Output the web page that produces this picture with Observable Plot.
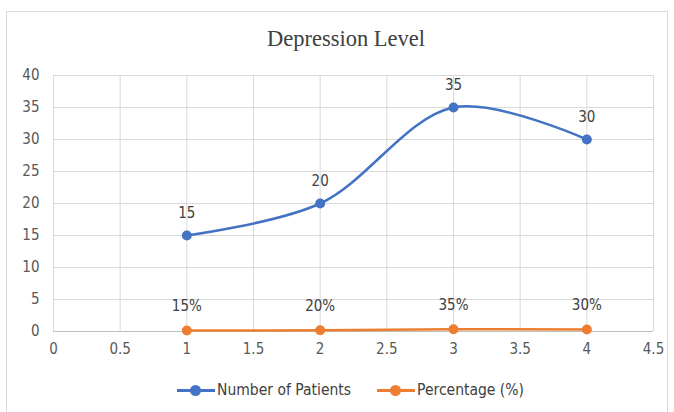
<!DOCTYPE html>
<html><head><meta charset="utf-8">
<script src="https://cdn.jsdelivr.net/npm/d3@7"></script>
<script src="https://cdn.jsdelivr.net/npm/@observablehq/plot@0.6"></script>
<style>
body{margin:0;background:#fff;width:674px;height:412px;overflow:hidden;position:relative;font-family:"Liberation Sans Narrow","DejaVu Sans Condensed",sans-serif;}
#frame{position:absolute;left:6px;top:11px;width:662px;height:420px;border:1px solid #d9d9d9;box-sizing:border-box;}
#title{position:absolute;left:0;width:692px;top:26px;text-align:center;font-family:"Liberation Serif","DejaVu Serif",serif;font-size:22.5px;color:#404040;}
#chart{position:absolute;left:0;top:0;}
#legend{position:absolute;top:381px;left:177px;font-size:15.5px;color:#404040;display:flex;align-items:center;}
.item{display:flex;align-items:center;margin-right:26px;}
.sw{position:relative;width:38px;height:12px;margin-right:2px;}
.sw .ln{position:absolute;left:0;right:0;top:5px;height:3px;}
.sw .dt{position:absolute;left:13px;top:1px;width:11px;height:11px;border-radius:50%;}
</style></head>
<body>
<div id="frame"></div>
<div id="chart"></div>
<div id="title">Depression Level</div>
<div id="legend"></div>
<script>
const levels = [1, 2, 3, 4];
const patients = [15, 20, 35, 30];
const percentages = [0.15, 0.20, 0.35, 0.30];
const percentLabels = ["15%", "20%", "35%", "30%"];
const seriesNames = ["Number of Patients", "Percentage (%)"];
const seriesColors = ["#4472C4", "#ED7D31"];
const xTicks = [0, 0.5, 1, 1.5, 2, 2.5, 3, 3.5, 4, 4.5];
const yTicks = [0, 5, 10, 15, 20, 25, 30, 35, 40];

const pData = levels.map((x, i) => ({x, y: patients[i], label: String(patients[i])}));
const qData = levels.map((x, i) => ({x, y: percentages[i], label: percentLabels[i]}));

const chart = Plot.plot({
  width: 674, height: 360,
  marginLeft: 53, marginRight: 21, marginTop: 75, marginBottom: 29,
  style: {fontFamily: '"Liberation Sans Narrow","DejaVu Sans Condensed",sans-serif', fontSize: "15px", color: "#595959", background: "transparent"},
  x: {domain: [0, 4.5], ticks: xTicks, tickFormat: d => String(d), tickSize: 0, tickPadding: 12, label: null},
  y: {domain: [0, 40], ticks: yTicks, tickFormat: d => String(d), tickSize: 0, tickPadding: 14, label: null},
  marks: [
    Plot.gridX(xTicks, {stroke: "#d9d9d9", strokeOpacity: 1, strokeWidth: 1}),
    Plot.gridY(yTicks, {stroke: "#d9d9d9", strokeOpacity: 1, strokeWidth: 1}),
    Plot.ruleY([0], {stroke: "#bfbfbf"}),
    Plot.line(pData, {x: "x", y: "y", stroke: seriesColors[0], strokeWidth: 2.5, curve: "catmull-rom"}),
    Plot.dot(pData, {x: "x", y: "y", fill: seriesColors[0], r: 5}),
    Plot.text(pData, {x: "x", y: "y", text: "label", dy: -22, fill: "#404040", fontSize: 15}),
    Plot.line(qData, {x: "x", y: "y", stroke: seriesColors[1], strokeWidth: 2.5, curve: "catmull-rom"}),
    Plot.dot(qData, {x: "x", y: "y", fill: seriesColors[1], r: 5}),
    Plot.text(qData, {x: "x", y: "y", text: "label", dy: -24, fill: "#404040", fontSize: 15})
  ]
});
document.getElementById("chart").appendChild(chart);

const legend = document.getElementById("legend");
seriesNames.forEach((name, i) => {
  const it = document.createElement("div");
  it.className = "item";
  it.innerHTML = `<div class="sw"><div class="ln" style="background:${seriesColors[i]}"></div><div class="dt" style="background:${seriesColors[i]}"></div></div><span>${name}</span>`;
  legend.appendChild(it);
});
</script>
</body></html>
